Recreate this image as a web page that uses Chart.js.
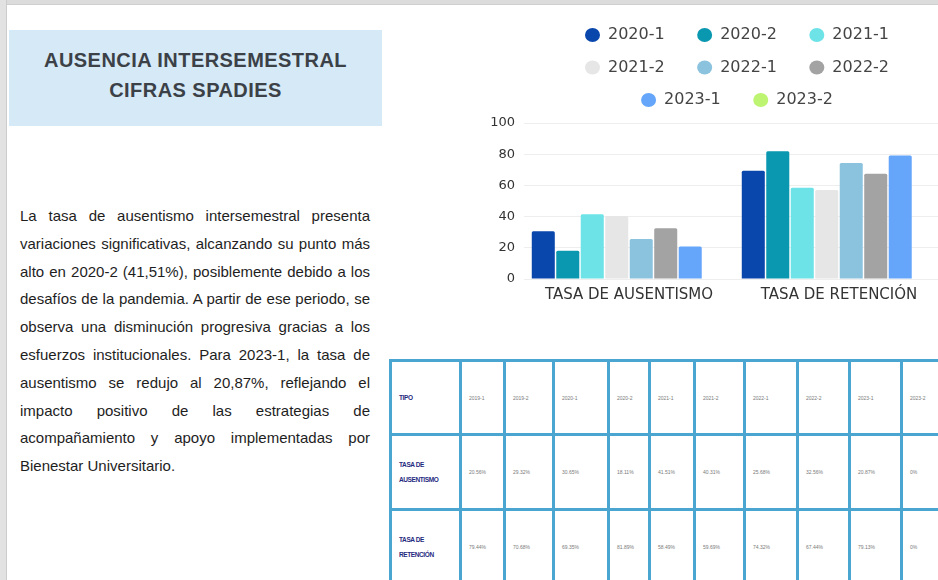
<!DOCTYPE html>
<html>
<head>
<meta charset="utf-8">
<script src="https://cdn.jsdelivr.net/npm/chart.js@4.4.1/dist/chart.umd.min.js"></script>
<style>
  html, body { margin: 0; padding: 0; }
  body { width: 938px; height: 580px; overflow: hidden; position: relative; background: #ffffff; font-family: "Liberation Sans", Arial, sans-serif; }
  #topbar { position: absolute; left: 0; top: 0; width: 938px; height: 5px; background: #dcdcdc; border-bottom: 1px solid #cfcfcf; box-sizing: border-box; }
  #leftbar { position: absolute; left: 0; top: 0; width: 7px; height: 580px; background: #e2e2e2; border-right: 1px solid #cccccc; box-sizing: border-box; }
  #titlebox { position: absolute; left: 9px; top: 30px; width: 373px; height: 96px; background: #d5e9f6; }
  #titlebox h1 { position: absolute; left: 0; top: 15px; width: 373px; margin: 0; text-align: center; font-family: "Liberation Sans", Arial, sans-serif; font-weight: bold; font-size: 20px; line-height: 30px; letter-spacing: 0.45px; color: #3b4147; }
  #para { position: absolute; left: 20px; top: 202px; width: 350px; margin: 0; font-size: 15px; line-height: 27.8px; text-align: justify; color: #1e1e1e; }
  #chartwrap { position: absolute; left: 486px; top: 0px; width: 458px; height: 318px; }
  #tbl { position: absolute; left: 389px; top: 359px; border-collapse: collapse; table-layout: fixed; }
  #tbl td { border: 3px solid #4aa5d1; padding: 0 0 0 7px; vertical-align: middle; font-size: 5px; color: #7a7a7a; overflow: hidden; white-space: nowrap; }
  #tbl td.lab { font-size: 6.5px; font-weight: bold; color: #1f2a80; letter-spacing: -0.4px; line-height: 15px; }
</style>
</head>
<body>
<div id="topbar"></div>
<div id="leftbar"></div>
<div id="titlebox"><h1>AUSENCIA INTERSEMESTRAL<br>CIFRAS SPADIES</h1></div>
<p id="para">La tasa de ausentismo intersemestral presenta variaciones significativas, alcanzando su punto más alto en 2020-2 (41,51%), posiblemente debido a los desafíos de la pandemia. A partir de ese periodo, se observa una disminución progresiva gracias a los esfuerzos institucionales. Para 2023-1, la tasa de ausentismo se redujo al 20,87%, reflejando el impacto positivo de las estrategias de acompañamiento y apoyo implementadas por Bienestar Universitario.</p>
<div id="chartwrap"><canvas id="c" width="458" height="318"></canvas></div>
<table id="tbl"><colgroup id="cols"></colgroup><tbody id="tbody"></tbody></table>
<script>
// ---- chart data ----
const categories = ['TASA DE AUSENTISMO', 'TASA DE RETENCIÓN'];
const seriesLabels = ['2020-1', '2020-2', '2021-1', '2021-2', '2022-1', '2022-2', '2023-1', '2023-2'];
const ausentismo = [30.65, 18.11, 41.51, 40.31, 25.68, 32.56, 20.87, 0];
const retencion = [69.35, 81.89, 58.49, 57.0, 74.32, 67.44, 79.13, 0];
const seriesColors = ['#0a47ad', '#0a97b0', '#6de3e8', '#e6e6e6', '#8bc2de', '#a3a3a3', '#65a6fb', '#bdf472'];
const yTicks = [0, 20, 40, 60, 80, 100];

// ---- table data ----
const tableHeader = ['TIPO', '2019-1', '2019-2', '2020-1', '2020-2', '2021-1', '2021-2', '2022-1', '2022-2', '2023-1', '2023-2'];
const tableRowLabels = [['TASA DE', 'AUSENTISMO'], ['TASA DE', 'RETENCIÓN']];
const tableAusentismo = ['20.56%', '29.32%', '30.65%', '18.11%', '41.51%', '40.31%', '25.68%', '32.56%', '20.87%', '0%'];
const tableRetencion = ['79.44%', '70.68%', '69.35%', '81.89%', '58.49%', '59.69%', '74.32%', '67.44%', '79.13%', '0%'];

// ---- table build ----
const colW = [70, 44, 49, 55, 41, 45, 50, 53, 52, 52, 52];
const rowH = [74, 75, 75];
const tbl = document.getElementById('tbl');
tbl.style.width = colW.reduce((a, b) => a + b, 0) + 'px';
const cols = document.getElementById('cols');
colW.forEach(w => { const c = document.createElement('col'); c.style.width = w + 'px'; cols.appendChild(c); });
const tbody = document.getElementById('tbody');
function addRow(h, cells, labelLines) {
  const tr = document.createElement('tr');
  tr.style.height = h + 'px';
  cells.forEach((txt, i) => {
    const td = document.createElement('td');
    if (i === 0) {
      td.className = 'lab';
      td.innerHTML = labelLines ? labelLines.join('<br>') : txt;
    } else {
      td.textContent = txt;
    }
    tr.appendChild(td);
  });
  tbody.appendChild(tr);
}
addRow(rowH[0], tableHeader, null);
addRow(rowH[1], [''].concat(tableAusentismo), tableRowLabels[0]);
addRow(rowH[2], [''].concat(tableRetencion), tableRowLabels[1]);

// ---- chart ----
const datasets = seriesLabels.map((lab, i) => ({
  label: lab,
  data: [ausentismo[i], retencion[i]],
  backgroundColor: seriesColors[i],
  borderRadius: 1.5,
  borderSkipped: 'bottom',
  categoryPercentage: 0.933,
  barPercentage: 0.94
}));

const legendTweak = {
  id: 'legendTweak',
  beforeLayout(chart) {
    const lg = chart.legend;
    if (lg && !lg._patched) {
      const orig = lg.fit;
      lg.fit = function () { orig.call(this); this.height += 5; };
      lg._patched = true;
    }
  },
  afterLayout(chart) {
    const lg = chart.legend;
    if (lg) { lg.left += 11; lg.right += 11; }
  }
};

new Chart(document.getElementById('c'), {
  type: 'bar',
  data: { labels: categories, datasets: datasets },
  plugins: [legendTweak],
  options: {
    responsive: false,
    animation: false,
    layout: { padding: { top: 10.5, left: 2, right: 0, bottom: 7 } },
    plugins: {
      legend: {
        position: 'top',
        fullSize: false,
        labels: {
          usePointStyle: true,
          pointStyle: 'circle',
          boxHeight: 10,
          pointStyleWidth: 15,
          padding: 16.5,
          color: '#444444',
          font: { family: '"DejaVu Sans", sans-serif', size: 16 },
          generateLabels(chart) {
            const items = Chart.defaults.plugins.legend.labels.generateLabels(chart);
            items.forEach(it => { it.text = it.text + '\u2002\u2002'; it.lineWidth = 0; });
            return items;
          }
        }
      },
      tooltip: { enabled: false }
    },
    scales: {
      x: {
        grid: { display: false, drawTicks: false },
        border: { display: false },
        ticks: { color: '#333333', padding: 7, font: { family: '"DejaVu Sans", sans-serif', size: 15 } }
      },
      y: {
        min: 0, max: 100,
        afterFit(s) { s.width = 36; },
        afterBuildTicks(s) { s.ticks = yTicks.map(v => ({ value: v })); },
        grid: { color: '#eeeeee', drawTicks: false, lineWidth: 1 },
        border: { display: false },
        ticks: { color: '#333333', padding: 9, font: { family: '"DejaVu Sans", sans-serif', size: 13 } }
      }
    }
  }
});
</script>
</body>
</html>
